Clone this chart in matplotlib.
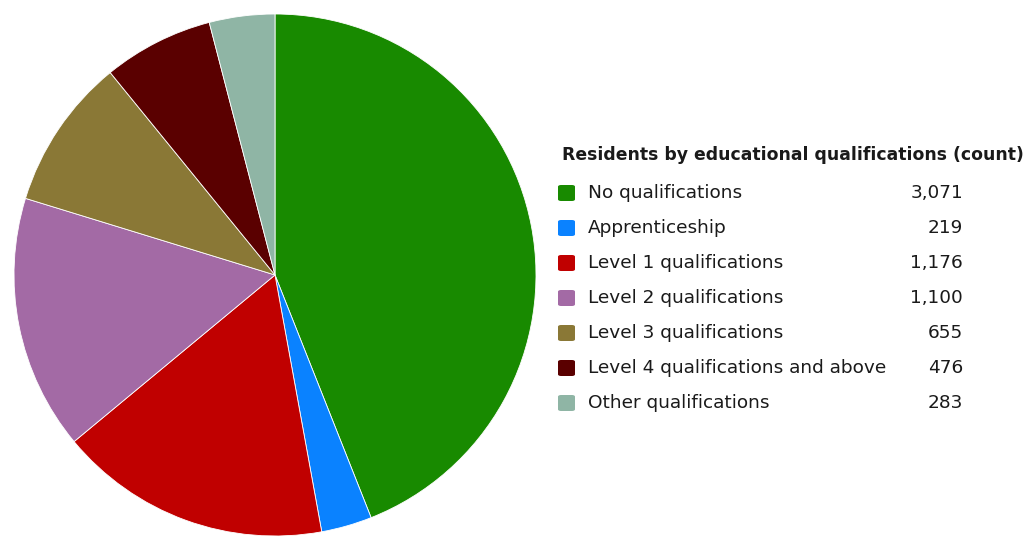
import matplotlib
matplotlib.use("Agg")
import matplotlib.pyplot as plt
from matplotlib.patches import FancyBboxPatch

W, H = 1025, 538

categories = ["No qualifications", "Apprenticeship", "Level 1 qualifications",
              "Level 2 qualifications", "Level 3 qualifications",
              "Level 4 qualifications and above", "Other qualifications"]
counts = [3071, 219, 1176, 1100, 655, 476, 283]
colors = ["#188a00", "#0a82ff", "#c00000", "#a36aa5", "#8a7836", "#5a0000", "#8fb5a5"]
title = "Residents by educational qualifications (count)"

plt.rcParams['font.family'] = ['DejaVu Sans']
fig = plt.figure(figsize=(W / 100, H / 100), dpi=100)

# pie: centre ~ (275, 275) px, radius ~261 px
cx, cy, r = 275, 275, 261
ax = fig.add_axes([(cx - r) / W, (H - cy - r) / H, 2 * r / W, 2 * r / H])
ax.pie(counts, colors=colors, startangle=90, counterclock=False,
       wedgeprops=dict(edgecolor="white", linewidth=0.6))
ax.set_xlim(-1, 1)
ax.set_ylim(-1, 1)
ax.set_aspect("auto")
ax.axis("off")


def fx(x):
    return x / W


def fy(y):
    return 1 - y / H


fig.text(fx(562), fy(155), title, fontsize=12.4, fontweight="bold",
         color="#1a1a1a", va="center", ha="left")

row0, step = 193, 35
for i, (cat, val, col) in enumerate(zip(categories, counts, colors)):
    y = row0 + i * step
    sq = FancyBboxPatch((fx(558), fy(y + 8)), fx(17), 16 / H,
                        boxstyle="round,pad=0,rounding_size=0.003",
                        transform=fig.transFigure, facecolor=col,
                        edgecolor="none")
    fig.patches.append(sq)
    fig.text(fx(588), fy(y), cat, fontsize=13.3, color="#1a1a1a",
             va="center", ha="left")
    fig.text(fx(963), fy(y), f"{val:,}", fontsize=13.3, color="#1a1a1a",
             va="center", ha="right")

fig.savefig("out.png", dpi=100, facecolor="white")
